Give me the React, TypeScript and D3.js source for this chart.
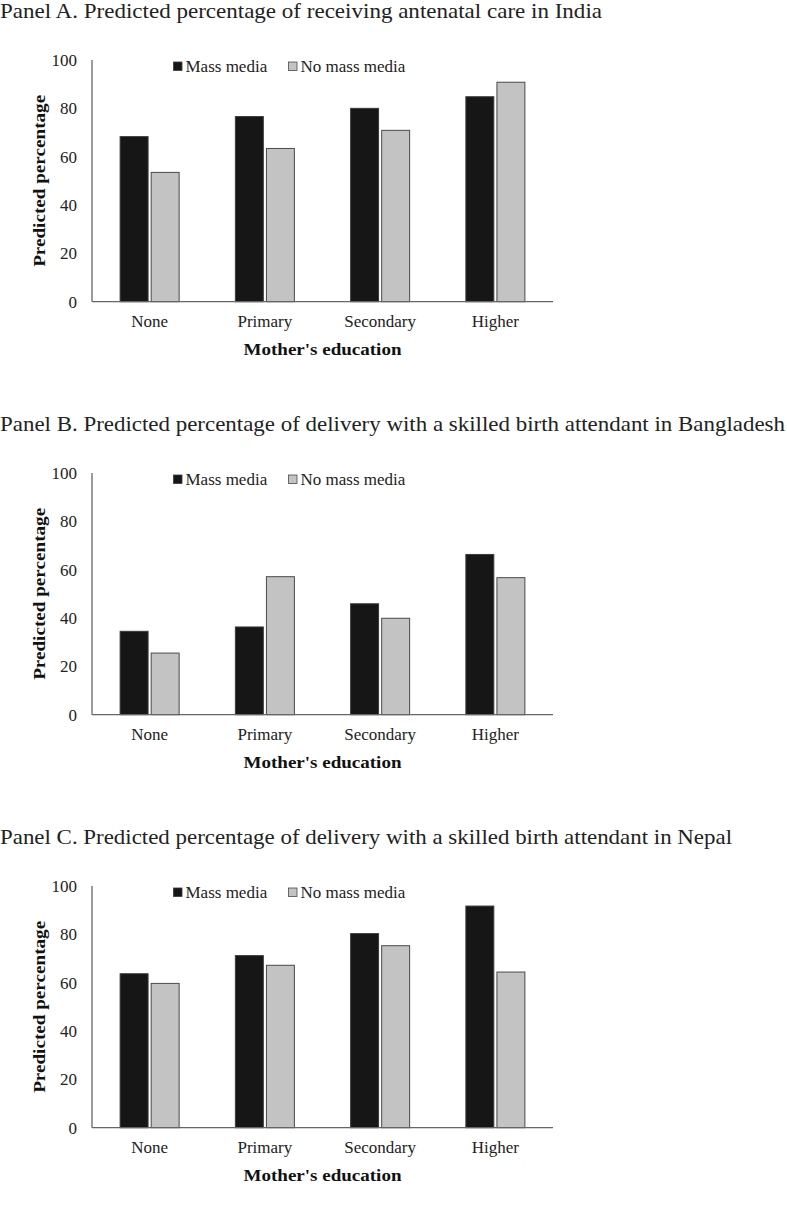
import React from "react";
import * as d3 from "d3";

const categories = ["None", "Primary", "Secondary", "Higher"];
const seriesNames = ["Mass media", "No mass media"];
const panelTitles = [
  "Panel A. Predicted percentage of receiving antenatal care in India",
  "Panel B. Predicted percentage of delivery with a skilled birth attendant in Bangladesh",
  "Panel C. Predicted percentage of delivery with a skilled birth attendant in Nepal",
];
const indiaMass = [68.3, 76.6, 80.0, 84.8];
const indiaNoMass = [53.5, 63.4, 70.9, 90.8];
const bangladeshMass = [34.5, 36.3, 45.9, 66.3];
const bangladeshNoMass = [25.5, 57.1, 39.9, 56.7];
const nepalMass = [63.7, 71.2, 80.3, 91.7];
const nepalNoMass = [59.7, 67.2, 75.3, 64.4];
const yTicks = [0, 20, 40, 60, 80, 100];

const panels = [
  { title: panelTitles[0], mass: indiaMass, noMass: indiaNoMass, titleLen: 602 },
  { title: panelTitles[1], mass: bangladeshMass, noMass: bangladeshNoMass, titleLen: 785 },
  { title: panelTitles[2], mass: nepalMass, noMass: nepalNoMass, titleLen: 732 },
];

const FONT = "Liberation Serif, Tinos, Times New Roman, Times, serif";
const colors = ["#161616", "#c3c3c3"];
const strokes = ["#3a3a3a", "#4a4a4a"];

const X0 = 92, X1 = 553, YTOP = 60, YBOT = 301.7;
const PANEL_DY = 413;

function Panel({ p, dy }: { p: any; dy: number }) {
  const x0 = d3.scaleBand<string>().domain(categories).range([X0, X1]).paddingInner(0.488).paddingOuter(0.244);
  const x1 = d3.scaleBand<string>().domain(seriesNames).range([0, x0.bandwidth()]).paddingInner(0.1);
  const y = d3.scaleLinear().domain([0, 100]).range([YBOT, YTOP]);
  const vals = [p.mass, p.noMass];
  const txt = { fontFamily: FONT };
  return (
    <g transform={`translate(0,${dy})`}>
      <text x={0} y={18} style={txt} fontSize={21} fill="#222" textLength={p.titleLen} lengthAdjust="spacingAndGlyphs">
        {p.title}
      </text>
      {yTicks.map((t) => (
        <text key={t} x={77} y={y(t)} dy="0.35em" textAnchor="end" style={txt} fontSize={17} fill="#222">
          {t}
        </text>
      ))}
      {categories.map((c, i) =>
        seriesNames.map((s, j) => (
          <rect
            key={c + s}
            x={(x0(c) as number) + (x1(s) as number)}
            y={y(vals[j][i])}
            width={x1.bandwidth()}
            height={YBOT - y(vals[j][i])}
            fill={colors[j]}
            stroke={strokes[j]}
            strokeWidth={1}
          />
        ))
      )}
      <line x1={X0} x2={X0} y1={YTOP} y2={YBOT} stroke="#666" strokeWidth={1.3} />
      <line x1={X0} x2={X1} y1={YBOT} y2={YBOT} stroke="#666" strokeWidth={1.3} />
      {categories.map((c) => (
        <text key={c} x={(x0(c) as number) + x0.bandwidth() / 2} y={327} textAnchor="middle" style={txt} fontSize={17} fill="#222">
          {c}
        </text>
      ))}
      <text x={(X0 + X1) / 2} y={355} textAnchor="middle" style={txt} fontSize={17} fontWeight="bold" fill="#111" textLength={158} lengthAdjust="spacingAndGlyphs">
        Mother's education
      </text>
      <text
        transform={`translate(45,${(YTOP + YBOT) / 2}) rotate(-90)`}
        textAnchor="middle"
        style={txt}
        fontSize={17}
        fontWeight="bold"
        fill="#111"
        textLength={172}
        lengthAdjust="spacingAndGlyphs"
      >
        Predicted percentage
      </text>
      <rect x={173.5} y={62} width={8.5} height={8.5} fill={colors[0]} stroke={strokes[0]} strokeWidth={0.8} />
      <text x={185.5} y={71.5} style={txt} fontSize={17} fill="#222">{seriesNames[0]}</text>
      <rect x={288.5} y={62} width={8.5} height={8.5} fill={colors[1]} stroke={strokes[1]} strokeWidth={0.8} />
      <text x={300.5} y={71.5} style={txt} fontSize={17} fill="#222">{seriesNames[1]}</text>
    </g>
  );
}

export default function App() {
  return (
    <svg width={787} height={1213} style={{ position: "absolute", left: 0, top: 0, background: "#fff" }}>
      <rect width={787} height={1213} fill="#fff" />
      {panels.map((p, i) => (
        <Panel key={i} p={p} dy={i * PANEL_DY} />
      ))}
    </svg>
  );
}
